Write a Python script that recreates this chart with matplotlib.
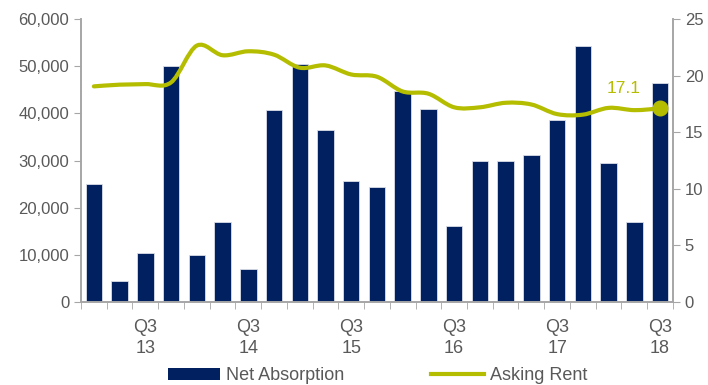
import numpy as np
from matplotlib import pyplot as plt
from matplotlib.lines import Line2D
from matplotlib.patches import Patch, PathPatch
from matplotlib.path import Path

plt.rcParams['font.family'] = ['Liberation Sans', 'DejaVu Sans']

# trimestri da Q1 13 a Q3 18
trimestri = ['Q1 13', 'Q2 13', 'Q3 13', 'Q4 13',
             'Q1 14', 'Q2 14', 'Q3 14', 'Q4 14',
             'Q1 15', 'Q2 15', 'Q3 15', 'Q4 15',
             'Q1 16', 'Q2 16', 'Q3 16', 'Q4 16',
             'Q1 17', 'Q2 17', 'Q3 17', 'Q4 17',
             'Q1 18', 'Q2 18', 'Q3 18']
assorbimento = [25000, 4400, 10300, 50100, 9900, 16900, 7100, 40800,
                50400, 36500, 25600, 24300, 44800, 40900, 16100, 30000,
                29800, 31100, 38600, 54300, 29500, 16900, 46500]
affitto = [19.05, 19.2, 19.25, 19.4, 22.65, 21.8, 22.15, 21.85,
           20.7, 20.9, 20.1, 19.9, 18.6, 18.4, 17.2, 17.2,
           17.6, 17.45, 16.6, 16.55, 17.15, 16.95, 17.1]
etichette_x = ['Q3\n13', 'Q3\n14', 'Q3\n15', 'Q3\n16', 'Q3\n17', 'Q3\n18']

blu = '#002060'
verde = '#b5bd00'
grigio = '#595959'
asse = '#a6a6a6'

fig = plt.figure(figsize=(7.08, 3.85), dpi=100)
ax = fig.add_axes([0.1144, 0.2156, 0.836, 0.735])
ax2 = ax.twinx()

x = np.arange(len(trimestri))
ax.bar(x, assorbimento, width=0.64, color=blu, edgecolor='#d9dde8', linewidth=0.6, zorder=2)
ax.set_ylim(0, 60000)
ax.set_xlim(-0.5, len(trimestri) - 0.5)
ax.set_yticks(range(0, 60001, 10000))
ax.set_yticklabels(['{:,}'.format(v) for v in range(0, 60001, 10000)])

# etichette solo sui Q3
pos_q3 = [i for i, t in enumerate(trimestri) if t.startswith('Q3')]
ax.set_xticks(pos_q3)
ax.set_xticklabels(etichette_x, linespacing=1.3)
ax.tick_params(axis='x', length=0, pad=12, colors=grigio, labelsize=13)
ax.set_xticks(np.arange(-0.5, len(trimestri)), minor=True)
ax.tick_params(axis='x', which='minor', length=5, color=asse, direction='out')

# linea smussata (curve di Bezier tipo Catmull-Rom, come Excel)
y = np.array(affitto)
vertici = [(x[0], y[0])]
codici = [Path.MOVETO]
for i in range(len(x) - 1):
    p0 = (x[max(i - 1, 0)], y[max(i - 1, 0)])
    p1 = (x[i], y[i])
    p2 = (x[i + 1], y[i + 1])
    p3 = (x[min(i + 2, len(x) - 1)], y[min(i + 2, len(x) - 1)])
    c1 = (p1[0] + (p2[0] - p0[0]) / 6, p1[1] + (p2[1] - p0[1]) / 6)
    c2 = (p2[0] - (p3[0] - p1[0]) / 6, p2[1] - (p3[1] - p1[1]) / 6)
    vertici += [c1, c2, p2]
    codici += [Path.CURVE4] * 3
ax2.add_patch(PathPatch(Path(vertici, codici), facecolor='none', edgecolor=verde,
                        linewidth=3, capstyle='round', joinstyle='round', zorder=3))
ax2.plot(x[-1], affitto[-1], 'o', color=verde, markersize=10.5, zorder=4)
ax2.annotate('{:.1f}'.format(affitto[-1]), (x[-1], affitto[-1]), xytext=(-14, 14),
             textcoords='offset points', ha='right', va='center', color=verde, fontsize=12.5)
ax2.set_ylim(0, 25)
ax2.set_yticks(range(0, 26, 5))

for a in (ax, ax2):
    a.tick_params(axis='y', colors=grigio, labelsize=12, length=5, color=asse)
    a.spines['top'].set_visible(False)
    for s in ('left', 'right', 'bottom'):
        a.spines[s].set_color(asse)
        a.spines[s].set_linewidth(1.2)
ax.tick_params(axis='x', which='minor', color=asse)

maniglie = [Patch(facecolor=blu, label='Net Absorption'),
            Line2D([0], [0], color=verde, linewidth=3, label='Asking Rent')]
fig.legend(handles=maniglie, loc='center left', bbox_to_anchor=(0.2373, 0.0234), ncol=2,
           frameon=False, fontsize=13, labelcolor=grigio, handlelength=2.9,
           handleheight=0.6, handletextpad=0.33, columnspacing=4.8,
           borderpad=0, borderaxespad=0)

fig.savefig('out.png', dpi=100)
